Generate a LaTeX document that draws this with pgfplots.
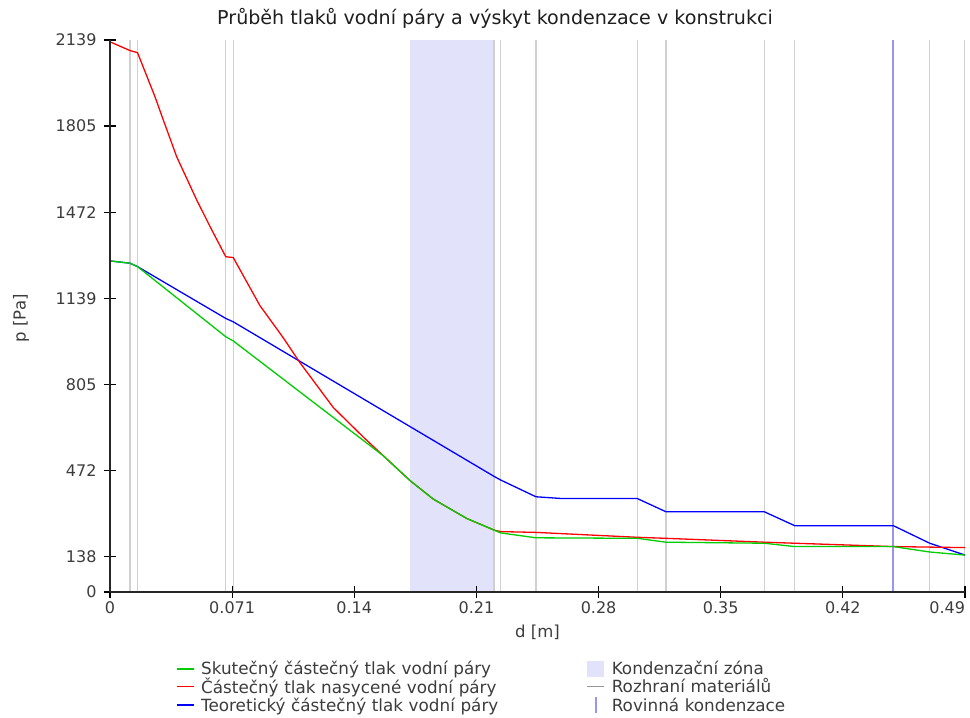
\documentclass[border=0pt]{standalone}
\usepackage{fontspec}
\setmainfont{DejaVu Sans}
\usepackage{pgfplots}
\pgfplotsset{compat=1.18}
\definecolor{cgreen}{RGB}{0,205,0}
\definecolor{cred}{RGB}{255,0,0}
\definecolor{cblue}{RGB}{0,0,255}
\definecolor{zonecol}{RGB}{226,226,250}
\definecolor{greyline}{RGB}{208,208,208}
\definecolor{planeblue}{RGB}{150,150,240}
\definecolor{tickgray}{RGB}{60,60,60}
\definecolor{titlegray}{RGB}{30,30,30}
\definecolor{leggray}{RGB}{150,150,150}
\pgfplotsset{
  mylineleg/.style={legend image code/.code={%
    \path[draw=none,fill=none] (0pt,-8pt) rectangle (22.5pt,8pt);
    \draw[##1] (0pt,0pt) -- (17pt,0pt);}},
  myboxleg/.style={legend image code/.code={%
    \path[draw=none,fill=none] (0pt,-8pt) rectangle (22.5pt,8pt);
    \fill[##1] (0pt,-8pt) rectangle (17pt,8pt);}},
  mybarleg/.style={legend image code/.code={%
    \path[draw=none,fill=none] (0pt,-8pt) rectangle (22.5pt,8pt);
    \draw[##1] (8.5pt,-8pt) -- (8.5pt,8pt);}},
}
\begin{document}
\begin{tikzpicture}
\path[use as bounding box] (-110pt,-126pt) rectangle (860pt,592pt);
\begin{axis}[
  at={(0pt,0pt)}, anchor=south west,
  scale only axis, width=855pt, height=552pt,
  xmin=0, xmax=0.494, ymin=0, ymax=2139,
  axis lines*=left,
  axis on top,
  axis line style={line width=1.2pt, black!85},
  xtick={0,0.070571,0.141143,0.211714,0.282286,0.352857,0.423429,0.494},
  xticklabels={0,0.071,0.14,0.21,0.28,0.35,0.42,\makebox[0pt][r]{0.49}},
  ytick={0,138,471.5,805,1138.5,1472,1805.5,2139},
  yticklabels={0,138,472,805,1139,1472,1805,2139},
  tick align=center, major tick length=12pt,
  tick style={line width=1.2pt, black},
  ticklabel style={font=\fontsize{16}{16}\selectfont, text=tickgray},
  yticklabel style={xshift=-4pt},
  /pgf/number format/assume math mode=true,
  xlabel={d [m]}, ylabel={p [Pa]},
  label style={font=\fontsize{16.5}{16.5}\selectfont, text=tickgray},
  xlabel style={at={(axis description cs:0.5,-0.0725)}, anchor=center},
  ylabel style={at={(axis description cs:-0.104,0.496)}, anchor=center},
  title={Průběh tlaků vodní páry a výskyt kondenzace v konstrukci},
  title style={at={(axis description cs:0.4503,1.0275)}, anchor=center, font=\fontsize{19.1}{19.1}\selectfont, text=titlegray},
  legend columns=2,
  legend cell align=left,
  legend style={
    at={(axis description cs:0.0772,-0.125)}, anchor=north west,
    draw=none, fill=none, inner sep=0pt, outer sep=0pt,
    font=\fontsize{16.8}{16.8}\selectfont, text=tickgray,
    /tikz/column sep=0pt, /tikz/row sep=0.5pt,
    nodes={inner xsep=2pt, inner ysep=0.5pt, text width=383.5pt, align=left},
  },
]
% condensation zone
\addplot[fill=zonecol, draw=none, forget plot] coordinates {(0.17333,0) (0.22187,0) (0.22187,2139) (0.17333,2139)} -- cycle;
% material interfaces
\pgfplotsinvokeforeach{0.01156,0.01589,0.06685,0.07124,0.22187,0.22574,0.24613,0.30466,0.32124,0.37804,0.39561,0.47360,0.49359}{
  \addplot[greyline, line width=1.5pt, forget plot] coordinates {(#1,0) (#1,2139)};
}
% condensation plane
\addplot[planeblue, line width=2pt, forget plot] coordinates {(0.45257,0) (0.45257,2139)};
% theoretical partial pressure
\addplot[cblue, line width=1.3pt, forget plot] coordinates {
(0,1283) (0.01156,1274) (0.01589,1261) (0.0669,1060) (0.0712,1047) (0.2219,448) (0.2257,434) (0.2461,369) (0.2615,362) (0.3047,362) (0.3212,311) (0.3780,311) (0.3956,257) (0.4526,257) (0.4736,189) (0.494,143)
};
% saturation pressure
\addplot[cred, line width=1.3pt, forget plot] coordinates {
(0,2132) (0.01156,2098) (0.01589,2090) (0.0260,1919) (0.0308,1829) (0.0385,1687) (0.0501,1519) (0.0578,1416) (0.0669,1299) (0.0712,1296) (0.0866,1110) (0.1001,985) (0.1098,888) (0.1290,715) (0.1464,600) (0.1579,528) (0.1733,432) (0.1868,360) (0.2061,285) (0.2219,240) (0.2257,234) (0.2461,231) (0.3047,212) (0.3212,208) (0.3780,193) (0.3956,189) (0.4526,176) (0.4736,174) (0.494,172)
};
% actual partial pressure
\addplot[cgreen, line width=1.3pt, forget plot] coordinates {
(0,1283) (0.01156,1274) (0.01589,1261) (0.0669,989) (0.0712,973) (0.1579,528) (0.1733,432) (0.1868,360) (0.2061,285) (0.2219,240) (0.2257,229) (0.2461,210) (0.3047,208) (0.3212,193) (0.3780,189) (0.3956,176) (0.4526,176) (0.4736,155) (0.494,143)
};
% legend
\addlegendimage{mylineleg, draw=cgreen, line width=1.3pt}
\addlegendentry{Skutečný částečný tlak vodní páry}
\addlegendimage{myboxleg, fill=zonecol, draw=none}
\addlegendentry{Kondenzační zóna}
\addlegendimage{mylineleg, draw=cred, line width=1.3pt}
\addlegendentry{Částečný tlak nasycené vodní páry}
\addlegendimage{mylineleg, draw=leggray, line width=1.3pt}
\addlegendentry{Rozhraní materiálů}
\addlegendimage{mylineleg, draw=cblue, line width=1.3pt}
\addlegendentry{Teoretický částečný tlak vodní páry}
\addlegendimage{mybarleg, draw=planeblue, line width=2pt}
\addlegendentry{Rovinná kondenzace}
\end{axis}
\end{tikzpicture}
\end{document}
